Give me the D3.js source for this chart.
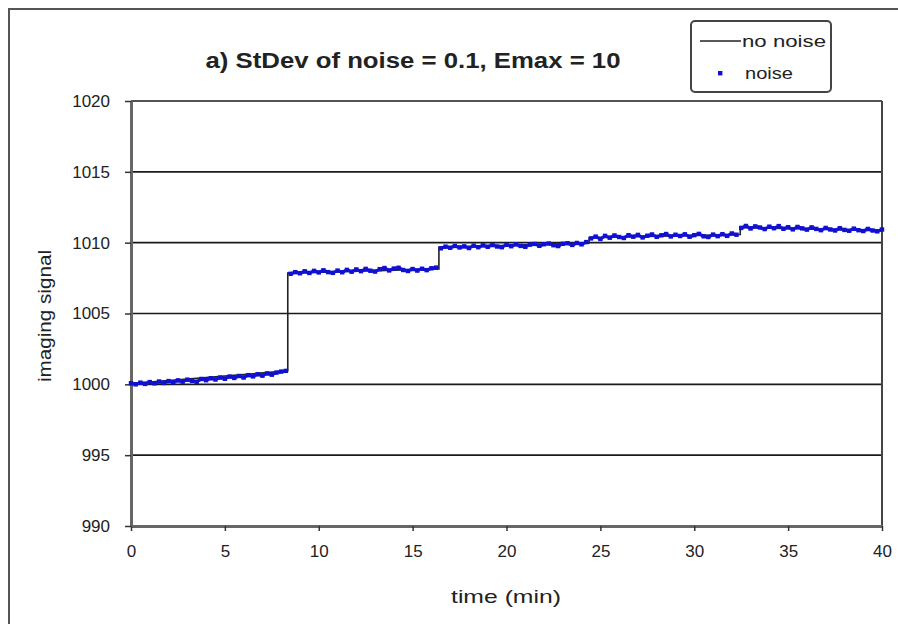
<!DOCTYPE html>
<html lang="en">
<head>
    <meta charset="UTF-8">
    <title>StDev of noise = 0.1, Emax = 10</title>
    <script src="https://cdnjs.cloudflare.com/ajax/libs/d3/7.8.5/d3.min.js"></script>
    <style>
        body { margin: 0; background: #ffffff; }
        text { font-family: "Liberation Sans", Arial, sans-serif; fill: #222; }
    </style>
</head>
<body>
    <script>
        // Axis ticks
        var xTicks = [0, 5, 10, 15, 20, 25, 30, 35, 40];
        var yTicks = [990, 995, 1000, 1005, 1010, 1015, 1020];

        // "no noise" step curve (time, signal)
        var noNoiseTime  = [0, 8.35, 8.35, 16.4, 16.4, 24.4, 24.4, 32.45, 32.45, 40];
        var noNoiseValue = [1000.05, 1000.95, 1007.85, 1008.15, 1009.68, 1009.98, 1010.35, 1010.58, 1011.08, 1010.85];

        // "noise" samples, one segment per step, sampled every 0.25 min
        var segStart = [0, 8.5, 16.5, 24.5, 32.5];
        var seg1 = [1000.08, 1000.00, 1000.12, 1000.03, 1000.16, 1000.07, 1000.20, 1000.10, 1000.23, 1000.14,
                    1000.28, 1000.19, 1000.33, 1000.25, 1000.18, 1000.38, 1000.29, 1000.43, 1000.34, 1000.48,
                    1000.39, 1000.55, 1000.45, 1000.59, 1000.48, 1000.65, 1000.56, 1000.71, 1000.61, 1000.77,
                    1000.68, 1000.83, 1000.90, 1000.95];
        var seg2 = [1007.80, 1007.92, 1007.84, 1007.98, 1007.86, 1008.01, 1007.90, 1008.05, 1007.92, 1007.87,
                    1008.03, 1007.91, 1008.08, 1007.95, 1008.11, 1007.99, 1008.15, 1008.02, 1007.96, 1008.13,
                    1008.21, 1008.04, 1008.17, 1008.23, 1008.07, 1008.00, 1008.14, 1008.03, 1008.16, 1008.06,
                    1008.19, 1008.24];
        var seg3 = [1009.60, 1009.72, 1009.64, 1009.77, 1009.66, 1009.74, 1009.62, 1009.79, 1009.68, 1009.81,
                    1009.71, 1009.83, 1009.73, 1009.68, 1009.85, 1009.75, 1009.88, 1009.77, 1009.71, 1009.86,
                    1009.91, 1009.78, 1009.89, 1009.94, 1009.82, 1009.76, 1009.92, 1009.96, 1009.84, 1009.98,
                    1009.88, 1010.04];
        var seg4 = [1010.30, 1010.43, 1010.26, 1010.48, 1010.35, 1010.51, 1010.40, 1010.33, 1010.53, 1010.42,
                    1010.55, 1010.37, 1010.49, 1010.58, 1010.41, 1010.52, 1010.61, 1010.44, 1010.56, 1010.47,
                    1010.59, 1010.42, 1010.53, 1010.62, 1010.45, 1010.40, 1010.57, 1010.46, 1010.60, 1010.48,
                    1010.65, 1010.56];
        var seg5 = [1011.04, 1011.18, 1011.00, 1011.15, 1011.07, 1010.96, 1011.13, 1011.02, 1011.17, 1010.98,
                    1011.09, 1010.94, 1011.11, 1011.01, 1010.92, 1011.08, 1010.97, 1010.88, 1011.04, 1010.93,
                    1010.86, 1011.02, 1010.90, 1010.84, 1010.99, 1010.88, 1010.82, 1010.97, 1010.86, 1010.80,
                    1010.93];
        var noiseSegments = [seg1, seg2, seg3, seg4, seg5];
        var sampleStep = 0.25;

        var width = 898, height = 624;
        var plot = {left: 131, right: 882, top: 101, bottom: 526};

        var svg = d3.select("body")
            .append("svg")
            .attr("width", width)
            .attr("height", height)
            .style("display", "block")
            .style("background-color", "#ffffff");

        // outer chart frame
        svg.append("rect")
            .attr("x", 9).attr("y", 9)
            .attr("width", 1000).attr("height", 1000)
            .attr("fill", "none")
            .attr("stroke", "#555")
            .attr("stroke-width", 2);

        var xScale = d3.scaleLinear().domain([0, 40]).range([plot.left, plot.right]);
        var yScale = d3.scaleLinear().domain([990, 1020]).range([plot.bottom, plot.top]);

        // horizontal gridlines
        svg.append("g")
            .selectAll("line")
            .data(yTicks)
            .enter()
            .append("line")
            .attr("x1", plot.left).attr("x2", plot.right)
            .attr("y1", function(d){ return yScale(d); })
            .attr("y2", function(d){ return yScale(d); })
            .attr("stroke", "#1a1a1a")
            .attr("stroke-width", 1.6);

        // right border of plot area
        svg.append("line")
            .attr("x1", plot.right).attr("x2", plot.right)
            .attr("y1", plot.top).attr("y2", plot.bottom)
            .attr("stroke", "#444")
            .attr("stroke-width", 2);

        // axes
        var xAxis = svg.append("g")
            .attr("transform", "translate(0," + plot.bottom + ")")
            .call(d3.axisBottom(xScale).tickValues(xTicks).tickSize(5).tickPadding(14).tickSizeOuter(0));
        var yAxis = svg.append("g")
            .attr("transform", "translate(" + plot.left + ",0)")
            .call(d3.axisLeft(yScale).tickValues(yTicks).tickFormat(d3.format("d"))
                .tickSize(6).tickPadding(15).tickSizeOuter(0));

        [xAxis, yAxis].forEach(function(ax){
            ax.select(".domain").attr("stroke", "#666").attr("stroke-width", 3);
            ax.selectAll(".tick line").attr("stroke", "#333").attr("stroke-width", 1.5);
            ax.selectAll(".tick text")
                .attr("font-family", "Liberation Sans, Arial, sans-serif")
                .attr("font-size", 17)
                .attr("fill", "#2a2a2a");
        });

        // no-noise curve
        var line = d3.line()
            .x(function(d){ return xScale(d[0]); })
            .y(function(d){ return yScale(d[1]); });

        svg.append("path")
            .datum(d3.zip(noNoiseTime, noNoiseValue))
            .attr("d", line)
            .attr("fill", "none")
            .attr("stroke", "#222")
            .attr("stroke-width", 1.6);

        // noise samples
        var noiseG = svg.append("g");
        noiseSegments.forEach(function(seg, i){
            var pts = seg.map(function(v, j){ return [segStart[i] + j * sampleStep, v]; });
            noiseG.append("path")
                .datum(pts)
                .attr("d", line)
                .attr("fill", "none")
                .attr("stroke", "#1a1ae0")
                .attr("stroke-width", 3.2)
                .attr("stroke-linejoin", "round");
            noiseG.selectAll(null)
                .data(pts)
                .enter()
                .append("rect")
                .attr("x", function(d){ return xScale(d[0]) - 2.2; })
                .attr("y", function(d){ return yScale(d[1]) - 2.2; })
                .attr("width", 4.4)
                .attr("height", 4.4)
                .attr("fill", "#1010d0");
        });

        // title
        svg.append("text")
            .attr("x", 413).attr("y", 68)
            .attr("text-anchor", "middle")
            .attr("font-size", 22)
            .attr("font-weight", "bold")
            .attr("textLength", 415)
            .attr("lengthAdjust", "spacingAndGlyphs")
            .text("a) StDev of noise = 0.1, Emax = 10");

        // axis titles
        svg.append("text")
            .attr("x", 506).attr("y", 603)
            .attr("text-anchor", "middle")
            .attr("font-size", 19)
            .attr("textLength", 110)
            .attr("lengthAdjust", "spacingAndGlyphs")
            .text("time (min)");
        svg.append("text")
            .attr("transform", "translate(51,316) rotate(-90)")
            .attr("text-anchor", "middle")
            .attr("font-size", 18)
            .attr("textLength", 132)
            .attr("lengthAdjust", "spacingAndGlyphs")
            .text("imaging signal");

        // legend
        var legend = svg.append("g");
        legend.append("rect")
            .attr("x", 691).attr("y", 21)
            .attr("width", 140).attr("height", 71)
            .attr("rx", 4)
            .attr("fill", "#fff")
            .attr("stroke", "#444")
            .attr("stroke-width", 2);
        legend.append("line")
            .attr("x1", 700).attr("x2", 741)
            .attr("y1", 41).attr("y2", 41)
            .attr("stroke", "#222").attr("stroke-width", 1.6);
        legend.append("text")
            .attr("x", 742).attr("y", 47)
            .attr("font-size", 17)
            .attr("textLength", 84)
            .attr("lengthAdjust", "spacingAndGlyphs")
            .text("no noise");
        legend.append("rect")
            .attr("x", 718).attr("y", 71)
            .attr("width", 4.4).attr("height", 4.4)
            .attr("fill", "#1010d0");
        legend.append("text")
            .attr("x", 745).attr("y", 79)
            .attr("font-size", 17)
            .attr("textLength", 48)
            .attr("lengthAdjust", "spacingAndGlyphs")
            .text("noise");
    </script>
</body>
</html>
